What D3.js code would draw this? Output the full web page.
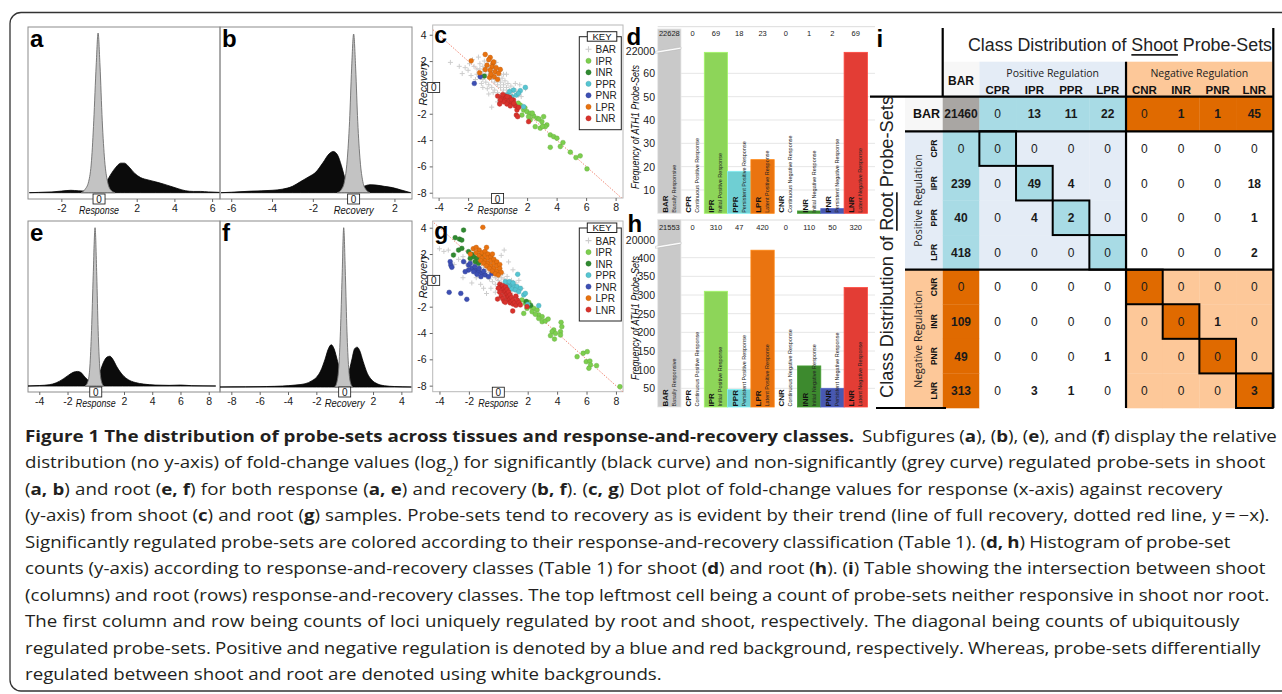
<!DOCTYPE html>
<html>
<head>
<meta charset="utf-8">
<script src="https://cdn.jsdelivr.net/npm/d3@7"></script>
<style>
body { margin: 0; background: #fff; }
svg { display: block; font-family: "Liberation Sans", Arial, sans-serif; }
text { white-space: pre; }
</style>
</head>
<body>
<svg id="fig" width="1282" height="694"></svg>
<script>
'use strict';
// ---------- data ----------
var classes = ["BAR", "CPR", "IPR", "PPR", "LPR", "CNR", "INR", "PNR", "LNR"];
var classNames = ["Basally Responsive", "Continuous Positive Response", "Initial Positive Response",
    "Persistent Positive Response", "Latent Positive Response", "Continuous Negative Response",
    "Initial Negative Response", "Persistent Negative Response", "Latent Negative Response"];
var posClasses = ["CPR", "IPR", "PPR", "LPR"];
var keyClasses = ["BAR", "IPR", "INR", "PPR", "PNR", "LPR", "LNR"];

// relative densities [log2 fold change, height]
var shootResponseSig = [[-3.7,0],[-3.2,0.002],[-2.5,0.005],[-2,0.01],[-1.5,0.015],[-1.1,0.012],[-0.7,0.01],[-0.3,0.012],[0,0.02],[0.3,0.05],[0.6,0.11],[0.9,0.16],[1.15,0.185],[1.35,0.185],[1.6,0.16],[1.9,0.12],[2.2,0.095],[2.6,0.08],[3.0,0.068],[3.4,0.055],[3.8,0.04],[4.2,0.025],[4.6,0.012],[5.0,0.008],[5.4,0.008],[5.8,0.005],[6.4,0.002]];
var shootResponseNon = [[-0.95,0],[-0.75,0.02],[-0.55,0.07],[-0.4,0.2],[-0.28,0.45],[-0.15,0.8],[-0.05,1],[0.05,0.8],[0.17,0.45],[0.3,0.2],[0.45,0.07],[0.6,0.02],[0.85,0]];
var shootRecoverySig = [[-6.5,0],[-6,0.003],[-5,0.01],[-4.5,0.012],[-4,0.015],[-3.5,0.022],[-3,0.04],[-2.6,0.07],[-2.2,0.1],[-1.85,0.13],[-1.5,0.19],[-1.2,0.245],[-1.0,0.26],[-0.8,0.24],[-0.6,0.17],[-0.4,0.08],[-0.2,0.03],[0,0.015],[0.2,0.02],[0.5,0.04],[0.8,0.05],[1.1,0.048],[1.5,0.04],[1.9,0.032],[2.3,0.018],[2.8,0]];
var shootRecoveryNon = [[-0.8,0],[-0.6,0.02],[-0.45,0.07],[-0.32,0.2],[-0.2,0.45],[-0.1,0.78],[0,1],[0.1,0.78],[0.2,0.45],[0.32,0.2],[0.45,0.07],[0.6,0.02],[0.8,0]];
var rootResponseSig = [[-4.8,0],[-4,0.003],[-3.3,0.008],[-2.8,0.02],[-2.3,0.045],[-1.9,0.07],[-1.55,0.088],[-1.3,0.092],[-1.05,0.085],[-0.8,0.06],[-0.5,0.035],[-0.2,0.028],[0.05,0.04],[0.3,0.09],[0.55,0.15],[0.8,0.183],[1.0,0.188],[1.2,0.17],[1.5,0.12],[1.9,0.07],[2.3,0.04],[2.8,0.022],[3.4,0.012],[4.2,0.006],[5.2,0.004],[6,0.006],[6.8,0.002],[8.5,0]];
var rootResponseNon = [[-0.75,0],[-0.55,0.03],[-0.42,0.12],[-0.3,0.35],[-0.18,0.7],[-0.05,1],[0.07,0.7],[0.17,0.35],[0.28,0.12],[0.4,0.03],[0.55,0]];
var rootRecoverySig = [[-8.8,0],[-7,0.001],[-5.5,0.003],[-4.4,0.006],[-3.5,0.012],[-2.8,0.02],[-2.3,0.04],[-2,0.06],[-1.7,0.1],[-1.4,0.17],[-1.15,0.24],[-0.95,0.265],[-0.75,0.24],[-0.5,0.16],[-0.25,0.08],[0,0.048],[0.25,0.08],[0.5,0.17],[0.7,0.24],[0.88,0.25],[1.05,0.23],[1.3,0.16],[1.6,0.085],[1.9,0.045],[2.3,0.02],[2.8,0.008],[3.5,0.003],[4.7,0]];
var rootRecoveryNon = [[-0.7,0],[-0.55,0.03],[-0.42,0.12],[-0.3,0.35],[-0.18,0.7],[-0.07,1],[0.05,0.7],[0.16,0.35],[0.28,0.12],[0.4,0.03],[0.55,0]];

// dot plots [response, recovery]
var shootBAR = [[-1.2,1.4],[-1.0,1.2],[-0.8,1.0],[-0.6,0.8],[-0.4,0.6],[-0.2,0.4],[0,0.2],[0.2,0],[0.4,-0.2],[0.6,-0.4],[0.8,-0.6],[-1.2,1.8],[-1.0,1.6],[-0.8,1.4],[-0.6,1.2],[-0.4,1.0],[-0.2,0.8],[0,0.6],[0.2,0.4],[0.4,0.2],[0.6,0],[0.8,-0.2],[1.0,-0.4],[-1.4,1.0],[-1.2,0.8],[-1.0,0.6],[-0.8,0.4],[-0.6,0.2],[-0.4,0],[-0.2,-0.2],[0,-0.4],[0.2,-0.6],[-1.6,1.6],[-1.4,1.4],[-0.9,2.0],[-0.5,1.5],[-0.3,1.3],[0.1,0.9],[0.3,0.7],[0.5,0.5],[0.7,0.3],[0.9,0.1],[1.1,-0.1],[1.3,-0.3],[-1.5,0.6],[-1.1,0.3],[-0.7,-0.1],[-0.3,-0.4],[0.1,-0.7],[0.5,-0.9],[-2.0,1.3],[-1.8,0.9],[-2.4,1.05],[-3.2,1.9],[-2.6,1.6],[-1.7,2.1],[-0.4,-1.5],[0.0,-1.1],[1.9,-0.1],[1.5,0.2],[0.6,1.0],[-0.1,1.9],[-1.3,2.3],[-0.7,1.7],[-0.3,1.7],[0.2,1.3],[0.4,1.0],[-1.9,1.8],[-2.2,1.5],[1.2,0.3],[0.9,-0.9],[0.3,-1.0],[-1.0,0.0],[-0.6,-0.5],[1.6,-0.7],[1.4,-0.6]];
var shootIPR = [[1.54,-1.34],[1.76,-1.72],[1.99,-1.84],[2.21,-1.97],[2.44,-2.17],[2.67,-2.35],[3.12,-2.22],[3.0,-2.6],[3.34,-2.85],[2.55,-2.98],[2.21,-2.47],[2.89,-3.1],[3.23,-2.98],[3.57,-3.61],[3.8,-3.74],[4.02,-3.86],[3.57,-4.55],[4.25,-4.49],[4.43,-4.19],[4.93,-4.92],[5.31,-5.33],[5.6,-5.2],[6.06,-6.19],[1.65,-2.1],[2.1,-2.22],[1.4,-1.2],[1.85,-1.55],[2.35,-1.95],[2.8,-2.4],[3.05,-2.95]];
var shootINR = [[-0.9,0.86]];
var shootPPR = [[1.88,0],[1.54,-0.25],[1.08,-0.2],[0.81,-0.33],[1.27,-0.58],[0.97,-0.71],[1.76,-1.46],[1.42,-0.45],[0.63,-0.58]];
var shootPNR = [[-1.58,0.3],[-1.18,0.81]];
var shootLPR = [[-1.79,2.02],[-0.84,2.5],[-0.5,2.27],[-0.32,1.82],[-0.72,1.69],[-0.38,1.57],[-0.16,1.19],[0.07,1.06],[0.18,1.36],[-0.5,1.31],[-0.84,1.36],[-0.54,0.76],[-0.23,0.81],[0,0.61],[-0.27,1.94],[-1.22,1.11],[-0.6,2.1],[-0.1,1.5],[-0.45,1.0]];
var shootLNR = [[0,-0.66],[0.29,-0.76],[0.52,-0.91],[0.75,-1.09],[0.97,-1.21],[1.2,-1.41],[0.41,-1.09],[0.63,-1.26],[0.86,-1.41],[0.18,-0.96],[0.14,-1.26],[1.31,-1.72],[1.27,-2.1],[1.36,-2.22],[2.1,-2.6],[0.52,-0.66],[0.81,-0.76],[1.08,-0.96],[1.42,-1.52],[0.35,-0.55],[0.65,-0.7],[0.95,-0.95],[1.1,-1.2]];

var rootBAR = [[-4.0,2.4],[-3.7,2.2],[-3.4,2.3],[-3.0,2.0],[-2.7,1.6],[-2.4,1.8],[-2.2,1.3],[-2.0,1.0],[-1.8,1.5],[-1.6,1.2],[-1.4,0.9],[-1.2,0.7],[-1.0,0.5],[-0.8,0.3],[-0.6,0.1],[-0.4,-0.1],[-0.2,-0.3],[0,0.0],[0.2,-0.2],[0.4,0.1],[0.6,-0.1],[0.8,-0.3],[1.0,-0.5],[1.2,-0.2],[1.4,0.0],[1.6,-0.6],[-1.0,1.0],[-0.8,0.8],[-0.6,0.6],[-0.4,0.4],[-0.2,0.2],[0,0.4],[0.2,0.2],[0.4,-0.4],[-0.4,0.9],[-0.2,0.7],[0,0.6],[0.3,0.5],[0.6,0.3],[0.9,0.0],[-1.2,-0.3],[-1.0,-0.6],[-0.5,-0.6],[-0.2,-0.9],[0.4,2.3],[0.2,1.9],[0.7,1.4],[1.0,0.8],[-2.4,0.2],[-1.8,-0.2],[-1.5,0.2],[-3.0,1.2],[0.6,-0.9],[-0.8,-1.0]];
var rootIPR = [[1.61,-1.49],[1.84,-1.75],[2.07,-1.67],[2.18,-2.0],[2.41,-2.13],[2.64,-2.25],[1.95,-2.13],[2.3,-2.38],[1.73,-2.51],[2.75,-2.63],[2.52,-2.58],[2.98,-2.76],[2.75,-2.89],[2.98,-3.14],[3.2,-3.09],[3.39,-2.94],[3.77,-3.77],[3.66,-3.9],[3.89,-4.03],[3.55,-4.2],[3.82,-4.46],[4.27,-3.19],[4.32,-3.52],[4.23,-3.9],[4.23,-4.15],[5.36,-5.8],[5.77,-5.54],[6.05,-5.42],[5.98,-6.18],[6.23,-6.13],[6.27,-6.43],[6.16,-6.68],[6.68,-6.48],[8.27,-8.08]];
var rootINR = [[-2.36,3.82],[-2.64,3.14],[-2.48,3.06],[-2.93,3.24],[-2.7,2.3],[-2.48,2.43],[-3.05,1.92],[-2.02,2.18],[-1.8,1.97],[-1.68,1.8],[-1.45,1.67],[-1.57,1.42],[-1.34,1.29],[-1.91,1.67],[-1.2,1.9],[-1.0,1.55],[1.9,-1.6],[2.2,-1.9]];
var rootPPR = [[1.32,0.46],[0.59,-0.23],[0.82,-0.35],[1.05,-0.41],[1.27,-0.48],[1.5,-0.61],[0.7,-0.48],[0.93,-0.66],[1.16,-0.73],[1.39,-0.86],[1.73,-1.11],[1.84,-0.99],[2.75,-1.92],[2.0,-1.82],[0.48,-0.1],[0.75,-0.1],[1.0,-0.2]];
var rootPNR = [[-3.27,1.42],[-3.23,1.16],[-3.16,0.99],[-2.36,1.42],[-2.02,1.16],[-1.8,0.91],[-1.57,0.78],[-1.34,0.66],[-1.11,0.53],[-0.89,0.41],[-0.66,0.28],[-1.68,0.66],[-1.45,0.46],[-1.18,0.28],[-2.02,0.78],[-2.25,0.66],[-3.34,-0.91],[-2.55,-0.99],[-2.14,-1.44],[-1.91,1.29],[-0.43,0.53],[-1.6,1.05],[-1.3,0.9],[-1.0,0.7]];
var rootLPR = [[-1.7,2.4],[-1.5,2.5],[-1.3,2.3],[-1.5,2.1],[-1.3,1.9],[-1.1,2.1],[-0.9,2.2],[-1.1,1.7],[-0.9,1.9],[-0.7,2.0],[-0.9,1.5],[-0.7,1.7],[-0.5,1.8],[-0.7,1.3],[-0.5,1.5],[-0.3,1.6],[-0.5,1.1],[-0.3,1.3],[-0.1,1.4],[-0.3,0.9],[-0.1,1.1],[0.1,1.2],[-0.1,0.7],[0.1,0.9],[0.2,0.6],[-1.2,1.5],[-1.0,1.3],[-0.8,1.1],[-0.6,0.9],[-0.4,0.7],[-0.2,0.5],[0.0,0.4],[-1.05,4.03],[-0.8,2.5],[-0.4,2.0],[-1.9,2.0]];
var rootLNR = [[0.1,-0.3],[0.2,-0.5],[0.3,-0.7],[0.4,-0.9],[0.5,-1.1],[0.6,-1.3],[0.7,-1.5],[0.8,-1.7],[0.3,-0.4],[0.4,-0.6],[0.5,-0.8],[0.6,-1.0],[0.7,-1.2],[0.8,-1.4],[0.9,-1.6],[1.0,-1.8],[0.5,-0.5],[0.6,-0.7],[0.7,-0.9],[0.8,-1.1],[0.9,-1.3],[1.0,-1.5],[1.1,-1.7],[1.2,-1.9],[0.0,-0.6],[0.1,-0.9],[0.2,-1.2],[0.3,-1.4],[0.4,-1.6],[1.2,-1.2],[1.3,-1.5],[1.4,-1.7],[0.48,-1.67],[-0.05,-1.42],[0.98,-2.33],[1.5,-1.87],[1.95,-2.0]];

// histogram counts per class
var shootCounts = [22628, 0, 69, 18, 23, 0, 1, 2, 69];
var rootCounts = [21553, 0, 310, 47, 420, 0, 110, 50, 320];
var shootTicks = [10, 20, 30, 40, 50, 60];
var rootTicks = [50, 100, 150, 200, 250, 300, 350, 400];

// intersection table: rows = root class, columns = shoot class
var tableCounts = [
    [21460, 0, 13, 11, 22, 0, 1, 1, 45],
    [0, 0, 0, 0, 0, 0, 0, 0, 0],
    [239, 0, 49, 4, 0, 0, 0, 0, 18],
    [40, 0, 4, 2, 0, 0, 0, 0, 1],
    [418, 0, 0, 0, 0, 0, 0, 0, 2],
    [0, 0, 0, 0, 0, 0, 0, 0, 0],
    [109, 0, 0, 0, 0, 0, 0, 1, 0],
    [49, 0, 0, 0, 1, 0, 0, 0, 0],
    [313, 0, 3, 1, 0, 0, 0, 0, 3]
];

var captionHead = "Figure 1 The distribution of probe-sets across tissues and response-and-recovery classes.";
var captionLines = [
    "Subfigures (**a**), (**b**), (**e**), and (**f**) display the relative",
    "distribution (no y-axis) of fold-change values (log~2~) for significantly (black curve) and non-significantly (grey curve) regulated probe-sets in shoot",
    "(**a, b**) and root (**e, f**) for both response (**a, e**) and recovery (**b, f**). (**c, g**) Dot plot of fold-change values for response (x-axis) against recovery",
    "(y-axis) from shoot (**c**) and root (**g**) samples. Probe-sets tend to recovery as is evident by their trend (line of full recovery, dotted red line, y\u2009=\u2009\u2212x).",
    "Significantly regulated probe-sets are colored according to their response-and-recovery classification (Table 1). (**d, h**) Histogram of probe-set",
    "counts (y-axis) according to response-and-recovery classes (Table 1) for shoot (**d**) and root (**h**). (**i**) Table showing the intersection between shoot",
    "(columns) and root (rows) response-and-recovery classes. The top leftmost cell being a count of probe-sets neither responsive in shoot nor root.",
    "The first column and row being counts of loci uniquely regulated by root and shoot, respectively. The diagonal being counts of ubiquitously",
    "regulated probe-sets. Positive and negative regulation is denoted by a blue and red background, respectively. Whereas, probe-sets differentially",
    "regulated between shoot and root are denoted using white backgrounds."
];
var captionStarts = [862, 25, 25, 25, 25, 25, 25, 25, 25, 25];
var captionEnds = [1277, 1266, 1223, 1270, 1231, 1266, 1270, 1240, 1261, 662];

// ---------- styles ----------
var dotColors = {IPR: "#7ccf4e", INR: "#2f8a30", PPR: "#55c5d2", PNR: "#3d4fb4", LPR: "#e8720f", LNR: "#d9322c"};
var barColors = {BAR: "#c9c9c9", IPR: "#8dd559", PPR: "#6fcfd3", LPR: "#ea7410", INR: "#3d8a2e", PNR: "#4858b1", LNR: "#e33d35"};
var FONT = "'Liberation Sans', Arial, sans-serif";

var svg = d3.select("#fig");
svg.append("rect").attr("width", 1282).attr("height", 694).attr("fill", "#fff");
svg.append("rect")
    .attr("x", 10).attr("y", 12.5).attr("width", 1300).attr("height", 678.5).attr("rx", 11)
    .attr("fill", "none").attr("stroke", "#333").attr("stroke-width", 1.3);

function zeroBox(g, cx, cy) {
    g.append("rect").attr("x", cx - 6).attr("y", cy - 5).attr("width", 12).attr("height", 10)
        .attr("fill", "#fff").attr("stroke", "#111").attr("stroke-width", 0.8);
    g.append("text").attr("x", cx).attr("y", cy + 0.5).attr("text-anchor", "middle")
        .attr("dominant-baseline", "central").attr("font-size", 10).attr("fill", "#222").text("0");
}

function styleAxis(ax) {
    ax.select(".domain").remove();
    ax.attr("font-family", FONT).attr("font-size", 10.5);
    ax.selectAll("line").attr("stroke", "#666");
    ax.selectAll("text").attr("fill", "#222");
}

function letter(t, x, y, size) {
    svg.append("text").attr("x", x).attr("y", y).attr("font-size", size || 24)
        .attr("font-weight", "bold").attr("fill", "#000").text(t);
}

// ---------- a, b, e, f: density curves ----------
function densityPanel(p) {
    var x = d3.scaleLinear().domain(p.domain).range([p.left, p.right]);
    var y = d3.scaleLinear().domain([0, 1]).range([p.base, p.peak]);
    var g = svg.append("g");

    g.append("rect")
        .attr("x", p.left).attr("y", p.top)
        .attr("width", p.right - p.left).attr("height", p.bottom - p.top)
        .attr("fill", "none").attr("stroke", "#8c8c8c");

    var area = d3.area()
        .x(function (d) { return x(d[0]); })
        .y0(p.base)
        .y1(function (d) { return y(d[1]); })
        .curve(d3.curveMonotoneX);

    g.append("path").datum(p.sig).attr("d", area)
        .attr("fill", "#0b0b0b").attr("stroke", "#000").attr("stroke-width", 0.8);
    g.append("path").datum(p.non).attr("d", area)
        .attr("fill", "#c3c3c3").attr("stroke", "#6e6e6e").attr("stroke-width", 0.9);

    var ax = g.append("g")
        .attr("transform", "translate(0," + p.bottom + ")")
        .call(d3.axisBottom(x).tickValues(p.ticks).tickSize(3)
            .tickFormat(function (d) { return String(d); }));
    styleAxis(ax);

    zeroBox(g, x(0), p.bottom);
    g.append("text").attr("x", x(0)).attr("y", p.bottom + 15).attr("text-anchor", "middle")
        .attr("font-size", 10.5).attr("font-style", "italic").attr("fill", "#111")
        .attr("textLength", 40).attr("lengthAdjust", "spacingAndGlyphs").text(p.label);
    letter(p.letter, p.left + 2, p.top + 19.7);
}

densityPanel({letter: "a", left: 28, right: 220, top: 27, bottom: 199, base: 192.7, peak: 33,
    domain: [-3.77, 6.42], ticks: [-2, 2, 4, 6], label: "Response", sig: shootResponseSig, non: shootResponseNon});
densityPanel({letter: "b", left: 220, right: 412, top: 27, bottom: 199, base: 192.7, peak: 34,
    domain: [-6.55, 2.86], ticks: [-6, -4, -2, 2], label: "Recovery", sig: shootRecoverySig, non: shootRecoveryNon});
densityPanel({letter: "e", left: 28, right: 220, top: 221, bottom: 392, base: 386, peak: 227.7,
    domain: [-4.8, 8.8], ticks: [-4, -2, 2, 4, 6, 8], label: "Response", sig: rootResponseSig, non: rootResponseNon});
densityPanel({letter: "f", left: 220, right: 412, top: 221, bottom: 392, base: 387, peak: 227.7,
    domain: [-8.8, 4.75], ticks: [-8, -6, -4, -2, 2, 4], label: "Recovery", sig: rootRecoverySig, non: rootRecoveryNon});

// ---------- c, g: dot plots ----------
function scatterPanel(p) {
    var x = d3.scaleLinear().domain(p.xDomain).range([p.left, p.right]);
    var y = d3.scaleLinear().domain(p.yDomain).range([p.top, p.bottom]);
    var g = svg.append("g");
    var clipId = "clip-" + p.letter;

    g.append("clipPath").attr("id", clipId).append("rect")
        .attr("x", p.left).attr("y", p.top).attr("width", p.right - p.left).attr("height", p.bottom - p.top);

    g.append("rect")
        .attr("x", p.left).attr("y", p.top)
        .attr("width", p.right - p.left).attr("height", p.bottom - p.top)
        .attr("fill", "none").attr("stroke", "#b8b8b8");

    var plot = g.append("g").attr("clip-path", "url(#" + clipId + ")");

    // line of full recovery, y = -x
    plot.append("line")
        .attr("x1", x(-10)).attr("y1", y(10)).attr("x2", x(10)).attr("y2", y(-10))
        .attr("stroke", "#f08a78").attr("stroke-width", 1).attr("stroke-dasharray", "1.5,1.5");

    plot.selectAll(".bar").data(p.sets.BAR).enter().append("path")
        .attr("d", "M-2.5,0H2.5M0,-2.5V2.5")
        .attr("transform", function (d) { return "translate(" + x(d[0]) + "," + y(d[1]) + ")"; })
        .attr("stroke", "#cdcdcd").attr("stroke-width", 1);

    keyClasses.slice(1).forEach(function (c) {
        plot.selectAll(".dot-" + c).data(p.sets[c]).enter().append("circle")
            .attr("cx", function (d) { return x(d[0]); })
            .attr("cy", function (d) { return y(d[1]); })
            .attr("r", 2.4)
            .attr("fill", dotColors[c])
            .attr("stroke", d3.color(dotColors[c]).darker(0.6))
            .attr("stroke-width", 0.4);
    });

    var ay = g.append("g").attr("transform", "translate(" + p.left + ",0)")
        .call(d3.axisLeft(y).tickValues([4, 2, -2, -4, -6, -8]).tickSize(3)
            .tickFormat(function (d) { return String(d); }));
    styleAxis(ay);
    var ax = g.append("g").attr("transform", "translate(0," + p.bottom + ")")
        .call(d3.axisBottom(x).tickValues([-4, -2, 2, 4, 6, 8]).tickSize(3)
            .tickFormat(function (d) { return String(d); }));
    styleAxis(ax);

    g.append("text").attr("transform", "translate(" + (p.left - 9.5) + "," + (y(0) - 4) + ") rotate(-90)")
        .attr("text-anchor", "middle").attr("dominant-baseline", "central")
        .attr("font-size", 10.5).attr("font-style", "italic").attr("fill", "#111")
        .attr("textLength", 44).attr("lengthAdjust", "spacingAndGlyphs").text("Recovery");
    zeroBox(g, p.left + 1, y(0));
    zeroBox(g, x(0), p.bottom + 0.5);
    g.append("text").attr("x", x(0)).attr("y", p.bottom + 15.5).attr("text-anchor", "middle")
        .attr("font-size", 10.5).attr("font-style", "italic").attr("fill", "#111")
        .attr("textLength", 40).attr("lengthAdjust", "spacingAndGlyphs").text("Response");

    // key
    var k = g.append("g");
    k.append("rect").attr("x", 579.3).attr("y", p.keyTop).attr("width", 42).attr("height", 93)
        .attr("fill", "#fff").attr("stroke", "#222").attr("stroke-width", 1);
    k.append("rect").attr("x", 587.3).attr("y", p.keyTop - 5).attr("width", 29.5).attr("height", 9.5)
        .attr("fill", "#fff").attr("stroke", "#222").attr("stroke-width", 1);
    k.append("text").attr("x", 602).attr("y", p.keyTop - 0.2).attr("text-anchor", "middle")
        .attr("dominant-baseline", "central").attr("font-size", 9.5).attr("fill", "#111").text("KEY");
    keyClasses.forEach(function (c, i) {
        var yy = p.keyTop + 12.6 + i * 11.5;
        if (c === "BAR") {
            k.append("path").attr("d", "M-3,0H3M0,-3V3").attr("transform", "translate(588.5," + yy + ")")
                .attr("stroke", "#cdcdcd").attr("stroke-width", 1.1);
        } else {
            k.append("circle").attr("cx", 588.5).attr("cy", yy).attr("r", 2.6)
                .attr("fill", dotColors[c]).attr("stroke", d3.color(dotColors[c]).darker(0.6)).attr("stroke-width", 0.4);
        }
        k.append("text").attr("x", 595.5).attr("y", yy + 0.5).attr("dominant-baseline", "central")
            .attr("font-size", 10).attr("fill", "#222").text(c);
    });

    letter(p.letter, p.left + 1.5, p.top + 18.3, 23);
}

scatterPanel({letter: "c", left: 432.7, right: 623, top: 25, bottom: 198,
    xDomain: [-4.4, 8.5], yDomain: [4.74, -8.4], keyTop: 36.7,
    sets: {BAR: shootBAR, IPR: shootIPR, INR: shootINR, PPR: shootPPR, PNR: shootPNR, LPR: shootLPR, LNR: shootLNR}});
scatterPanel({letter: "g", left: 432.7, right: 623, top: 221, bottom: 391.7,
    xDomain: [-4.46, 8.48], yDomain: [4.51, -8.46], keyTop: 228,
    sets: {BAR: rootBAR, IPR: rootIPR, INR: rootINR, PPR: rootPPR, PNR: rootPNR, LPR: rootLPR, LNR: rootLNR}});

// ---------- d, h: histograms with broken axis ----------
function barPanel(p) {
    var x = d3.scaleBand().domain(classes).range([657.7, 867.4]);
    var y = d3.scaleLinear().domain(p.domain).range([p.base, p.yTop]);
    var yBreak = d3.scaleLinear().domain(p.breakDomain).range([p.breakPx, p.barTopPx]);
    var g = svg.append("g");

    g.append("line").attr("x1", 657.7).attr("x2", 875).attr("y1", p.topLine).attr("y2", p.topLine)
        .attr("stroke", "#dcdcdc");
    g.selectAll(".grid").data(p.ticks).enter().append("line")
        .attr("x1", 657.7).attr("x2", 875)
        .attr("y1", function (d) { return y(d); }).attr("y2", function (d) { return y(d); })
        .attr("stroke", "#e6e6e6");

    classes.forEach(function (c, i) {
        var v = p.counts[i];
        if (!v) return;
        var top = c === "BAR" ? yBreak(v) : y(v);
        g.append("rect").attr("x", x(c)).attr("y", top)
            .attr("width", x.bandwidth()).attr("height", p.base - top)
            .attr("fill", barColors[c])
            .attr("stroke", d3.color(barColors[c]).brighter(0.4)).attr("stroke-width", 0.8);
    });

    // axis break across the BAR bar
    g.append("path")
        .attr("d", "M655.5," + (p.breakY + 2) + "L681," + (p.breakY - 2.2) + "L681," + (p.breakY - 0.2) + "L655.5," + (p.breakY + 4) + "Z")
        .attr("fill", "#fff").attr("stroke", "#aaa").attr("stroke-width", 0.4);

    g.selectAll(".ylab").data(p.ticks).enter().append("text")
        .attr("x", 655).attr("y", function (d) { return y(d); })
        .attr("text-anchor", "end").attr("dominant-baseline", "central")
        .attr("font-size", 10.5).attr("fill", "#222").text(function (d) { return d; });
    g.append("text").attr("x", 655).attr("y", p.breakPx)
        .attr("text-anchor", "end").attr("dominant-baseline", "central")
        .attr("font-size", 10.5).attr("fill", "#222").text(p.breakDomain[0]);

    g.selectAll(".count").data(p.counts).enter().append("text")
        .attr("x", function (d, i) { return x(classes[i]) + x.bandwidth() / 2; })
        .attr("y", p.countY).attr("text-anchor", "middle")
        .attr("font-size", 7.5).attr("fill", "#222").text(function (d) { return d; });

    classes.forEach(function (c, i) {
        g.append("text")
            .attr("transform", "translate(" + (x(c) + 7.3) + "," + (p.base - 0.5) + ") rotate(-90)")
            .attr("dy", "0.35em").attr("font-size", 8).attr("font-weight", "bold").attr("fill", "#111").text(c);
        g.append("text")
            .attr("transform", "translate(" + (x(c) + 16.2) + "," + (p.base - 0.5) + ") rotate(-90)")
            .attr("dy", "0.35em").attr("font-size", 5.5).attr("fill", "#222").text(classNames[i]);
    });

    g.append("text").attr("transform", "translate(635," + p.titleY + ") rotate(-90)")
        .attr("text-anchor", "middle").attr("dominant-baseline", "central")
        .attr("font-size", 10.5).attr("font-style", "italic").attr("fill", "#111")
        .attr("textLength", 124).attr("lengthAdjust", "spacingAndGlyphs").text("Frequency of ATH1 Probe-Sets");

    letter(p.letter, p.lx, p.ly);
}

barPanel({letter: "d", lx: 626.5, ly: 44.5, counts: shootCounts, ticks: shootTicks,
    domain: [0, 70], base: 213.3, yTop: 50, breakDomain: [22000, 22700], breakPx: 50.5, barTopPx: 26.5,
    breakY: 49.3, topLine: 26.7, countY: 36, titleY: 127});
barPanel({letter: "h", lx: 627.5, ly: 231.5, counts: rootCounts, ticks: rootTicks,
    domain: [0, 450], base: 407, yTop: 239, breakDomain: [20000, 21600], breakPx: 239.5, barTopPx: 219,
    breakY: 244.3, topLine: 220, countY: 229.5, titleY: 318});

// ---------- i: intersection table ----------
var tx = d3.scaleBand().domain(classes).range([942.7, 1272.7]);
var ty = d3.scaleBand().domain(classes).range([96.7, 408]);
function group(c) { return c === "BAR" ? "bar" : (posClasses.indexOf(c) >= 0 ? "pos" : "neg"); }
var paleCol = {pos: "#e4ecf6", neg: "#fdc899"};
var strongCol = {pos: "#a8dbe5", neg: "#e06a00"};

function cellColor(r, c) {
    var gr = group(r), gc = group(c);
    if (gr === "bar" && gc === "bar") return "#a9a6a3";
    if (gr === "bar") return strongCol[gc];
    if (gc === "bar") return strongCol[gr];
    if (gr === gc) return r === c ? strongCol[gr] : paleCol[gr];
    return "#fff";
}

var tg = svg.append("g");
// header backgrounds
tg.append("rect").attr("x", tx("BAR")).attr("y", 61.7).attr("width", tx.bandwidth()).attr("height", 35).attr("fill", "#f7f7f7");
tg.append("rect").attr("x", tx("CPR")).attr("y", 61.7).attr("width", tx.bandwidth() * 4).attr("height", 35).attr("fill", paleCol.pos);
tg.append("rect").attr("x", tx("CNR")).attr("y", 61.7).attr("width", tx.bandwidth() * 4).attr("height", 35).attr("fill", paleCol.neg);
tg.append("rect").attr("x", 905).attr("y", ty("BAR")).attr("width", 37.7).attr("height", ty.bandwidth()).attr("fill", "#f7f7f7");
tg.append("rect").attr("x", 905).attr("y", ty("CPR")).attr("width", 37.7).attr("height", ty.bandwidth() * 4).attr("fill", paleCol.pos);
tg.append("rect").attr("x", 905).attr("y", ty("CNR")).attr("width", 37.7).attr("height", ty.bandwidth() * 4).attr("fill", paleCol.neg);

classes.forEach(function (r, ri) {
    classes.forEach(function (c, ci) {
        var v = tableCounts[ri][ci];
        tg.append("rect").attr("x", tx(c)).attr("y", ty(r))
            .attr("width", tx.bandwidth() + 0.3).attr("height", ty.bandwidth() + 0.3)
            .attr("fill", cellColor(r, c));
        tg.append("text").attr("x", tx(c) + tx.bandwidth() / 2).attr("y", ty(r) + ty.bandwidth() / 2 + 0.5)
            .attr("text-anchor", "middle").attr("dominant-baseline", "central")
            .attr("font-size", 12).attr("font-weight", v ? "bold" : "normal")
            .attr("fill", "#1a1a1a").text(v);
    });
});

// diagonal staircase outlines
classes.slice(1).forEach(function (c) {
    tg.append("rect").attr("x", tx(c)).attr("y", ty(c))
        .attr("width", tx.bandwidth()).attr("height", ty.bandwidth())
        .attr("fill", "none").attr("stroke", "#000").attr("stroke-width", 2);
});

function tline(x1, y1, x2, y2) {
    tg.append("line").attr("x1", x1).attr("y1", y1).attr("x2", x2).attr("y2", y2)
        .attr("stroke", "#000").attr("stroke-width", 2.2);
}
tline(870, 96.7, 1273.3, 96.7);
tline(905, ty("CPR"), 1273.3, ty("CPR"));
tline(905, ty("CNR"), 1273.3, ty("CNR"));
tline(942.7, 28, 942.7, 96.7);
tline(tx("CNR"), 61.7, tx("CNR"), 408);
tline(1273.3, 28, 1273.3, 408);
tline(876, 408, 946, 408);

// headers
tg.append("text").attr("x", tx("BAR") + tx.bandwidth() / 2).attr("y", 80.5)
    .attr("text-anchor", "middle").attr("dominant-baseline", "central")
    .attr("font-size", 12).attr("font-weight", "bold").attr("fill", "#111").text("BAR");
classes.slice(1).forEach(function (c) {
    tg.append("text").attr("x", tx(c) + tx.bandwidth() / 2).attr("y", 89.5)
        .attr("text-anchor", "middle").attr("dominant-baseline", "central")
        .attr("font-size", 11.5).attr("font-weight", "bold").attr("fill", "#111").text(c);
});
tg.append("text").attr("x", tx("CPR") + tx.bandwidth() * 2).attr("y", 72.5)
    .attr("text-anchor", "middle").attr("dominant-baseline", "central")
    .attr("font-family", "'Open Sans', sans-serif").attr("font-size", 10.5).attr("fill", "#222").text("Positive Regulation");
tg.append("text").attr("x", tx("CNR") + tx.bandwidth() * 2).attr("y", 72.5)
    .attr("text-anchor", "middle").attr("dominant-baseline", "central")
    .attr("font-family", "'Open Sans', sans-serif").attr("font-size", 10.5).attr("fill", "#222").text("Negative Regulation");

tg.append("text").attr("x", 940).attr("y", ty("BAR") + ty.bandwidth() / 2 + 0.5)
    .attr("text-anchor", "end").attr("dominant-baseline", "central")
    .attr("font-size", 12.5).attr("font-weight", "bold").attr("fill", "#111").text("BAR");
classes.slice(1).forEach(function (c) {
    tg.append("text")
        .attr("transform", "translate(934.3," + (ty(c) + ty.bandwidth() / 2) + ") rotate(-90)")
        .attr("text-anchor", "middle").attr("dominant-baseline", "central")
        .attr("font-size", 8.5).attr("font-weight", "bold").attr("fill", "#111").text(c);
});
tg.append("text").attr("transform", "translate(918.3," + (ty("CPR") + ty.bandwidth() * 2) + ") rotate(-90)")
    .attr("text-anchor", "middle").attr("dominant-baseline", "central")
    .attr("font-family", "'Open Sans', sans-serif").attr("font-size", 10.5).attr("fill", "#222").text("Positive Regulation");
tg.append("text").attr("transform", "translate(918.3," + (ty("CNR") + ty.bandwidth() * 2) + ") rotate(-90)")
    .attr("text-anchor", "middle").attr("dominant-baseline", "central")
    .attr("font-family", "'Open Sans', sans-serif").attr("font-size", 10.5).attr("fill", "#222").text("Negative Regulation");

var shootTitle = tg.append("text").attr("x", 1120).attr("y", 45).attr("text-anchor", "middle")
    .attr("dominant-baseline", "central").attr("font-size", 17.5).attr("fill", "#222")
    .attr("textLength", 304).attr("lengthAdjust", "spacingAndGlyphs");
shootTitle.append("tspan").text("Class Distribution of ");
shootTitle.append("tspan").attr("text-decoration", "underline").text("Shoot");
shootTitle.append("tspan").text(" Probe-Sets");

var rootTitle = tg.append("text").attr("transform", "translate(887,247) rotate(-90)")
    .attr("text-anchor", "middle").attr("dominant-baseline", "central")
    .attr("font-size", 17.5).attr("fill", "#222")
    .attr("textLength", 302).attr("lengthAdjust", "spacingAndGlyphs");
rootTitle.append("tspan").text("Class Distribution of ");
rootTitle.append("tspan").attr("text-decoration", "underline").text("Root");
rootTitle.append("tspan").text(" Probe-Sets");

letter("i", 876.5, 46.7);

// ---------- caption (justified) ----------
var head = svg.append("text")
    .attr("font-family", "'Open Sans', sans-serif").attr("font-size", 15.5)
    .attr("font-weight", "bold").attr("fill", "#231f20").text(captionHead);
var headW = head.node().getComputedTextLength();
head.attr("transform", "translate(25,442) scale(" + (830 / headW) + ",1)");

var capTexts = captionLines.map(function (line) {
    var t = svg.append("text")
        .attr("font-family", "'Open Sans', sans-serif").attr("font-size", 15.5).attr("fill", "#231f20");
    var bold = false, sub = false;
    line.split(/(\*\*|~)/).forEach(function (part) {
        if (part === "**") { bold = !bold; return; }
        if (part === "~") { sub = !sub; return; }
        if (!part) return;
        var ts = t.append("tspan").text(part);
        if (bold) ts.attr("font-weight", "bold");
        if (sub) ts.attr("baseline-shift", "sub").attr("font-size", 10);
    });
    return t;
});
// glyph scale taken from the unjustified last line, then word spacing fills each line
var lastIdx = captionLines.length - 1;
var capScale = (captionEnds[lastIdx] - captionStarts[lastIdx]) / capTexts[lastIdx].node().getComputedTextLength();
capTexts.forEach(function (t, i) {
    var w = t.node().getComputedTextLength();
    var spaces = (captionLines[i].match(/ /g) || []).length;
    var extra = (captionEnds[i] - captionStarts[i]) / capScale - w;
    if (i < lastIdx && spaces) t.attr("word-spacing", extra / spaces);
    t.attr("transform", "translate(" + captionStarts[i] + "," + (442 + i * 26.45) + ") scale(" + capScale + ",1)");
});
</script>
</body>
</html>
